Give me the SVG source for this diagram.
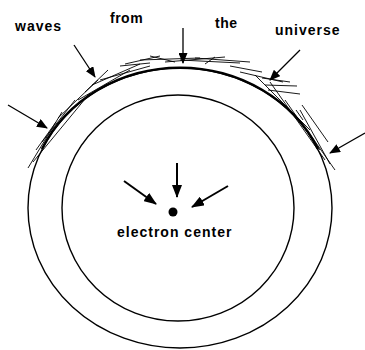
<svg xmlns="http://www.w3.org/2000/svg" width="365" height="350" viewBox="0 0 365 350">
<style>
.ring{fill:none;stroke:#000;stroke-width:1.4}
.wave{stroke:#000;stroke-width:0.9;fill:none}
.arr{stroke:#000;stroke-width:1.3;fill:none;marker-end:url(#ah)}
.arr2{stroke:#000;stroke-width:2;fill:none;marker-end:url(#ah2)}
.lbl{font-family:"Liberation Sans",Arial,sans-serif;font-weight:bold;font-size:14px;letter-spacing:1px;fill:#000}
</style>
<defs>
<marker id="ah" markerUnits="userSpaceOnUse" markerWidth="11" markerHeight="9" refX="10" refY="4.5" orient="auto">
<path d="M0,0 L11,4.5 L0,9 z" fill="#000"/>
</marker>
<marker id="ah2" markerUnits="userSpaceOnUse" markerWidth="13" markerHeight="10" refX="12" refY="5" orient="auto">
<path d="M0,0 L13,5 L0,10 z" fill="#000"/>
</marker>
</defs>
<rect width="365" height="350" fill="#fff"/>
<g id="outer-sphere">
<ellipse class="ring" cx="180" cy="208" rx="152" ry="140"/>
<path d="M42,149 A152,140 0 0 1 318,149" fill="none" stroke="#000" stroke-width="2.6"/>
</g>
<g id="inner-sphere">
<ellipse class="ring" cx="178" cy="208" rx="116" ry="113"/>
</g>
<g id="waves">
<line class="wave" x1="28" y1="168" x2="62" y2="112"/>
<line class="wave" x1="33" y1="162" x2="90" y2="93"/>
<line class="wave" x1="36" y1="150" x2="56" y2="122"/>
<line class="wave" x1="42" y1="142" x2="75" y2="100"/>
<line class="wave" x1="58" y1="118" x2="98" y2="80"/>
<line class="wave" x1="85" y1="92" x2="108" y2="70"/>
<line class="wave" x1="92" y1="85" x2="140" y2="64"/>
<line class="wave" x1="100" y1="80" x2="150" y2="66"/>
<line class="wave" x1="78" y1="100" x2="130" y2="70"/>
<line class="wave" x1="125" y1="64" x2="160" y2="56"/>
<line class="wave" x1="140" y1="60" x2="200" y2="58"/>
<line class="wave" x1="150" y1="56" x2="175" y2="62"/>
<line class="wave" x1="165" y1="62" x2="225" y2="57"/>
<line class="wave" x1="180" y1="60" x2="240" y2="63"/>
<line class="wave" x1="195" y1="58" x2="250" y2="62"/>
<line class="wave" x1="205" y1="64" x2="215" y2="57"/>
<line class="wave" x1="120" y1="66" x2="150" y2="63"/>
<line class="wave" x1="230" y1="66" x2="262" y2="72"/>
<line class="wave" x1="240" y1="72" x2="283" y2="82"/>
<line class="wave" x1="262" y1="78" x2="290" y2="82"/>
<line class="wave" x1="265" y1="85" x2="297" y2="86"/>
<line class="wave" x1="268" y1="90" x2="300" y2="94"/>
<line class="wave" x1="255" y1="75" x2="310" y2="130"/>
<line class="wave" x1="270" y1="82" x2="325" y2="160"/>
<line class="wave" x1="285" y1="100" x2="320" y2="150"/>
<line class="wave" x1="300" y1="110" x2="330" y2="164"/>
<line class="wave" x1="302" y1="105" x2="328" y2="142"/>
<line class="wave" x1="307" y1="130" x2="335" y2="170"/>
<line class="wave" x1="296" y1="110" x2="303" y2="120"/>
</g>
<g id="connectors">
<line class="arr" x1="74" y1="45" x2="95" y2="77"/>
<line class="arr" x1="183" y1="28" x2="183" y2="63"/>
<line class="arr" x1="300" y1="50" x2="270" y2="80"/>
<line class="arr" x1="8" y1="105" x2="47" y2="128"/>
<line class="arr" x1="365" y1="133" x2="330" y2="153"/>
<line class="arr2" x1="177" y1="163" x2="177" y2="197"/>
<line class="arr2" x1="124" y1="181" x2="156" y2="204"/>
<line class="arr2" x1="228" y1="186" x2="192" y2="207"/>
</g>
<g id="electron-center">
<circle cx="173" cy="212" r="4.5" fill="#000"/>
<text class="lbl" x="117" y="237">electron center</text>
</g>
<g id="labels">
<text class="lbl" x="15" y="31">waves</text>
<text class="lbl" x="110" y="23" style="letter-spacing:0.5px">from</text>
<text class="lbl" x="215" y="28" style="letter-spacing:0.5px">the</text>
<text class="lbl" x="275" y="35">universe</text>
</g>
</svg>
